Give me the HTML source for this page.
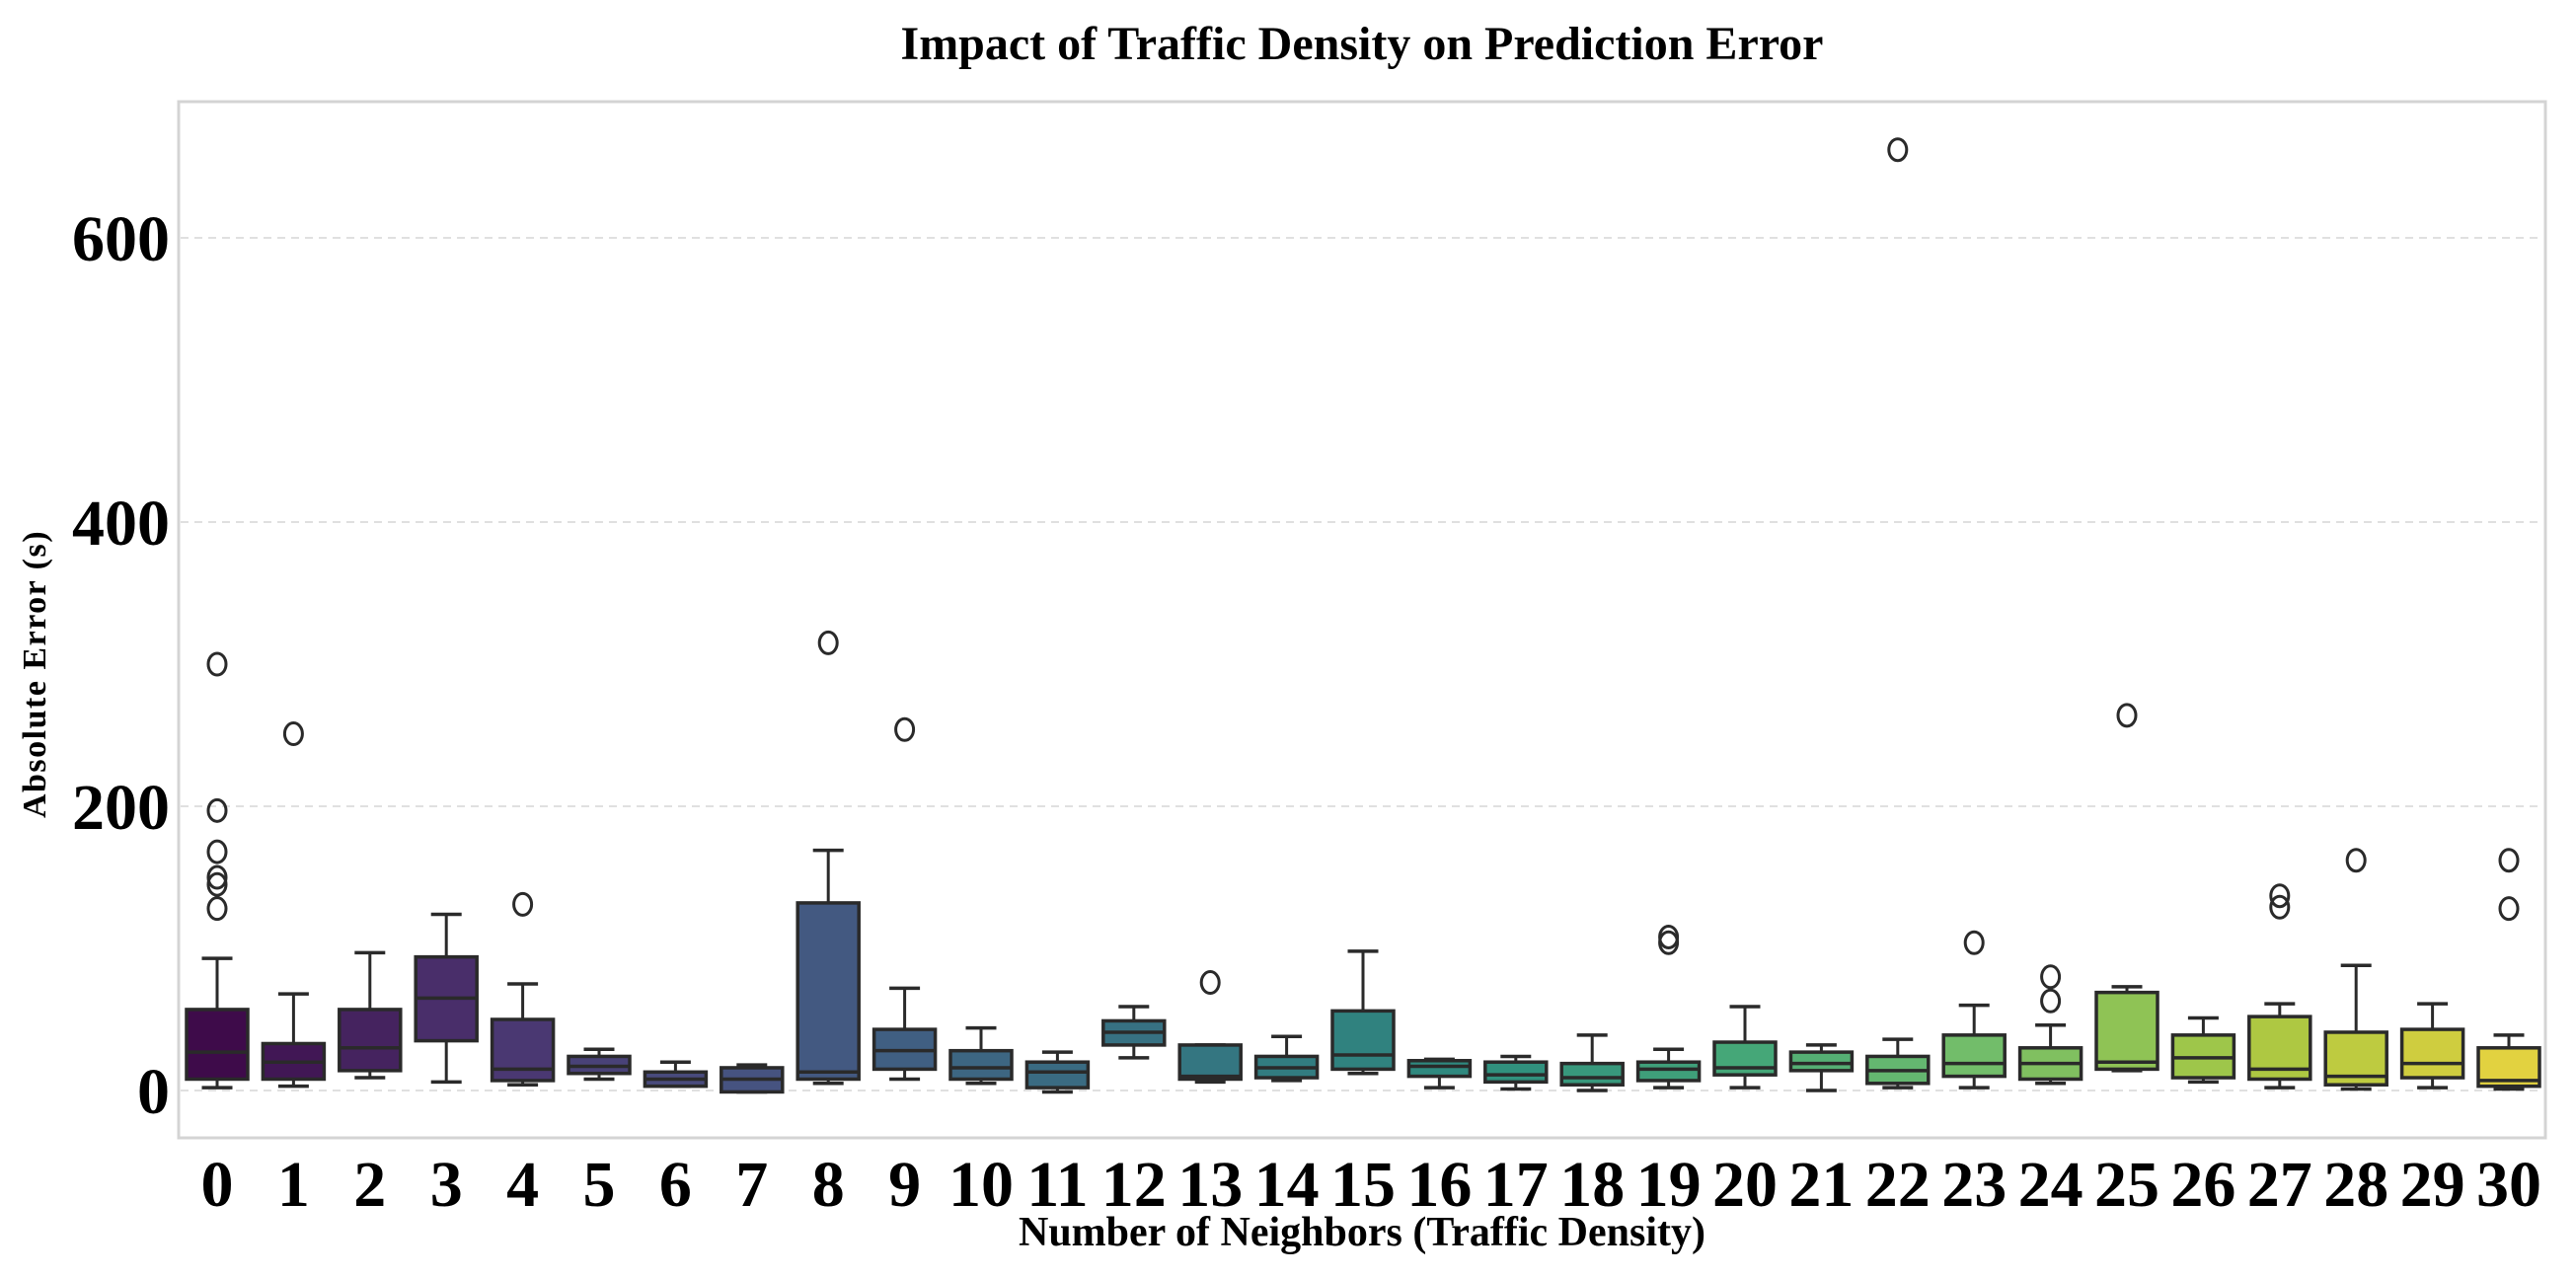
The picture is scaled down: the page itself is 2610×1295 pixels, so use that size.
<!DOCTYPE html>
<html><head><meta charset="utf-8"><style>
html,body{margin:0;padding:0;background:#fff}
svg{display:block}
text{font-family:"Liberation Serif",serif;font-weight:bold;fill:#000}
</style></head><body>
<svg id="chart" width="2610" height="1295" viewBox="0 0 2610 1295" xmlns="http://www.w3.org/2000/svg">
<text x="1380" y="60" font-size="48" text-anchor="middle">Impact of Traffic Density on Prediction Error</text>
<g id="grid"></g>
<g id="boxes"></g>
<rect x="181" y="103" width="2398" height="1050" fill="none" stroke="#d4d4d4" stroke-width="3"/>
<g id="yticks"></g>
<g id="xticks"></g>
<text transform="translate(46,683) rotate(-90)" font-size="34" letter-spacing="1.5" text-anchor="middle">Absolute Error (s)</text>
<text x="1380" y="1262" font-size="42" text-anchor="middle">Number of Neighbors (Traffic Density)</text>
</svg>
<script>
const categories = [0,1,2,3,4,5,6,7,8,9,10,11,12,13,14,15,16,17,18,19,20,21,22,23,24,25,26,27,28,29,30];
const whiskerLow = [2,3,9,6,4,8,3,-1,5,8,5,-1,23,6,7,12,2,1,0,2,2,0,2,2,5,14,6,2,1,2,1];
const q1 = [8,8,14,35,7,12,3,-1,8,15,8,2,32,8,9,15,10,6,4,7,11,14,5,10,8,15,9,8,4,9,3];
const medians = [27,20,30,65,15,17,8,8,13,28,16,13,41,10,16,25,17,11,9,15,16,19,14,19,19,20,23,15,10,19,7];
const q3 = [57,33,57,94,50,24,13,16,132,43,28,20,49,32,24,56,21,20,19,20,34,27,24,39,30,69,39,52,41,43,30];
const whiskerHigh = [93,68,97,124,75,29,20,18,169,72,44,27,59,32,38,98,22,24,39,29,59,32,36,60,46,73,51,61,88,61,39];
const outliers = [[300,197,168,150,145,128],[251],[],[],[131],[],[],[],[315],[254],[],[],[],[76],[],[],[],[],[],[108,104],[],[],[662],[104],[80,63],[264],[],[137,129],[162],[],[162,128]];
const yTicks = [0,200,400,600];

const NS='http://www.w3.org/2000/svg';
const X0=220, STEP=77.4, BOXW=62;
function xs(i){return X0+i*STEP;}
function ys(v){return 1105 - v*1.44;}
function mk(tag,attrs,parent){const e=document.createElementNS(NS,tag);for(const k in attrs)e.setAttribute(k,attrs[k]);parent.appendChild(e);return e;}
const vir=[[68,1,84],[72,40,120],[62,74,137],[49,104,142],[38,130,142],[31,158,137],[53,183,121],[109,205,89],[180,222,44],[253,231,37]];
function viridis(t){const p=t*(vir.length-1),i=Math.min(Math.floor(p),vir.length-2),f=p-i;return vir[i].map((c,k)=>c+(vir[i+1][k]-c)*f);}
function desat(rgb,s){let [r,g,b]=rgb.map(v=>v/255);const mx=Math.max(r,g,b),mn=Math.min(r,g,b),l=(mx+mn)/2;let h=0,sat=0;
 if(mx!==mn){const d=mx-mn;sat=l>0.5?d/(2-mx-mn):d/(mx+mn);
  if(mx===r)h=((g-b)/d+(g<b?6:0));else if(mx===g)h=(b-r)/d+2;else h=(r-g)/d+4;h/=6;}
 sat*=s;const q=l<0.5?l*(1+sat):l+sat-l*sat,p=2*l-q;
 function hu(t){if(t<0)t+=1;if(t>1)t-=1;if(t<1/6)return p+(q-p)*6*t;if(t<1/2)return q;if(t<2/3)return p+(q-p)*(2/3-t)*6;return p;}
 return 'rgb('+[hu(h+1/3),hu(h),hu(h-1/3)].map(v=>Math.round(v*255)).join(',')+')';}

const grid=document.getElementById('grid'), yt=document.getElementById('yticks');
yTicks.forEach(v=>{
 const l=mk('line',{x1:183,x2:2577,y1:ys(v),y2:ys(v),stroke:'#e0e0e0','stroke-width':2,'stroke-dasharray':'8,6'},grid);
 
 
 const t=mk('text',{x:172,y:ys(v)+23,'font-size':66,'text-anchor':'end'},yt);
 t.textContent=v;
 
 
});
const bg=document.getElementById('boxes'), xt=document.getElementById('xticks');
categories.forEach((c,i)=>{
 const g=mk('g',{},bg);
 
 
 const cx=xs(i), col=desat(viridis(i/(categories.length-1)),0.75), st='#2a2a2a';
 mk('line',{x1:cx,x2:cx,y1:ys(whiskerLow[i]),y2:ys(q1[i]),stroke:st,'stroke-width':3},g);
 mk('line',{x1:cx,x2:cx,y1:ys(q3[i]),y2:ys(whiskerHigh[i]),stroke:st,'stroke-width':3},g);
 mk('line',{x1:cx-BOXW/4,x2:cx+BOXW/4,y1:ys(whiskerLow[i]),y2:ys(whiskerLow[i]),stroke:st,'stroke-width':3.5},g);
 mk('line',{x1:cx-BOXW/4,x2:cx+BOXW/4,y1:ys(whiskerHigh[i]),y2:ys(whiskerHigh[i]),stroke:st,'stroke-width':3.5},g);
 mk('rect',{x:cx-BOXW/2,y:ys(q3[i]),width:BOXW,height:Math.max(1,ys(q1[i])-ys(q3[i])),fill:col,stroke:st,'stroke-width':3.5},g);
 mk('line',{x1:cx-BOXW/2,x2:cx+BOXW/2,y1:ys(medians[i]),y2:ys(medians[i]),stroke:st,'stroke-width':3.5},g);
 outliers[i].forEach(o=>{
  const e=mk('ellipse',{cx:cx,cy:ys(o),rx:9,ry:11,fill:'none',stroke:st,'stroke-width':3},g);
  
  
 });
 const t=mk('text',{x:cx,y:1222,'font-size':66,'text-anchor':'middle'},xt);
 t.textContent=c;
 
 
});
</script>
</body></html>
